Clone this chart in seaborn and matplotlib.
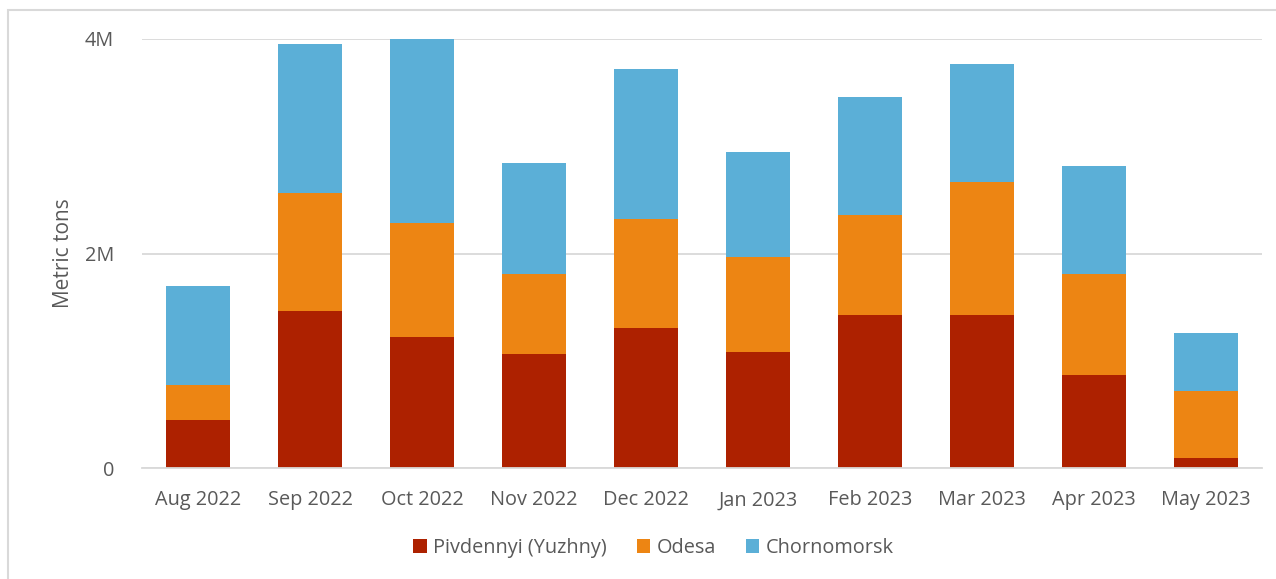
import pandas as pd
import numpy as np
import matplotlib
matplotlib.use("Agg")
import matplotlib.pyplot as plt
from matplotlib.patches import Patch, Rectangle
from matplotlib.ticker import FuncFormatter
import seaborn as sns

months = ["Aug 2022", "Sep 2022", "Oct 2022", "Nov 2022", "Dec 2022",
          "Jan 2023", "Feb 2023", "Mar 2023", "Apr 2023", "May 2023"]
# million metric tons
pivdennyi = [0.45, 1.46, 1.22, 1.06, 1.31, 1.08, 1.43, 1.43, 0.87, 0.09]
odesa = [0.32, 1.10, 1.06, 0.75, 1.01, 0.89, 0.93, 1.24, 0.94, 0.63]
chornomorsk = [0.93, 1.39, 1.72, 1.03, 1.40, 0.98, 1.10, 1.10, 1.01, 0.54]

series = ["Pivdennyi (Yuzhny)", "Odesa", "Chornomorsk"]
colors = ["#AD2100", "#ED8513", "#5BAFD7"]

df = pd.DataFrame({"month": months,
                   "Pivdennyi (Yuzhny)": np.array(pivdennyi) * 1e6,
                   "Odesa": np.array(odesa) * 1e6,
                   "Chornomorsk": np.array(chornomorsk) * 1e6})
cum = df[series].cumsum(axis=1)

sns.set_theme(style="white")
plt.rcParams["font.family"] = ["Open Sans", "DejaVu Sans"]
grey = "#595959"
line = "#D9D9D9"

fig = plt.figure(figsize=(12.76, 5.79), dpi=100)
ax = fig.add_axes([142 / 1276, 1 - 468 / 579, (1262 - 142) / 1276, (468 - 39) / 579])

# stacked bars: draw cumulative layers from top down
for s, c in zip(reversed(series), reversed(colors)):
    sns.barplot(data=cum.assign(month=df["month"]), x="month", y=s, color=c,
                width=0.58, ax=ax, saturation=1, edgecolor="none", zorder=3)

ax.set_xlim(-0.5, len(months) - 0.5)
ax.set_ylim(0, 4e6)
ax.set_yticks([0, 2e6, 4e6])
ax.yaxis.set_major_formatter(FuncFormatter(lambda v, p: "0" if v == 0 else f"{v/1e6:.0f}M"))
ax.grid(axis="y", color=line, linewidth=1.3, zorder=0)
ax.set_axisbelow(True)

for side in ["top", "right", "left"]:
    ax.spines[side].set_visible(False)
ax.spines["bottom"].set_color(line)
ax.spines["bottom"].set_linewidth(1.3)
ax.spines["bottom"].set_zorder(4)

ax.set_xticks(range(len(months)))
ax.set_xticklabels(months)
ax.set_xticks(np.arange(-0.5, len(months), 1.0), minor=True)
ax.tick_params(axis="x", which="major", length=0, pad=16, labelsize=14.3, labelcolor=grey)
ax.tick_params(axis="x", which="minor", length=7, width=1.3, color=line, direction="out")
ax.tick_params(axis="y", length=0, pad=20, labelsize=14.3, labelcolor=grey)
ax.set_xlabel("")
ax.set_ylabel("Metric tons", fontsize=15, color=grey, labelpad=8)

handles = [Patch(facecolor=c, edgecolor="none", label=s) for s, c in zip(series, colors)]
fig.legend(handles=handles, loc="center", bbox_to_anchor=(0.512, 1 - 548 / 579), ncol=3,
           frameon=False, fontsize=14.3, labelcolor=grey, handlelength=0.7,
           handleheight=0.7, handletextpad=0.3, columnspacing=1.5)

fig.patches.append(Rectangle((8 / 1276, -0.05), 1.1, 1.05 - 10 / 579, transform=fig.transFigure,
                             fill=False, edgecolor=line, linewidth=1.5))

fig.savefig("out.png", dpi=100)
